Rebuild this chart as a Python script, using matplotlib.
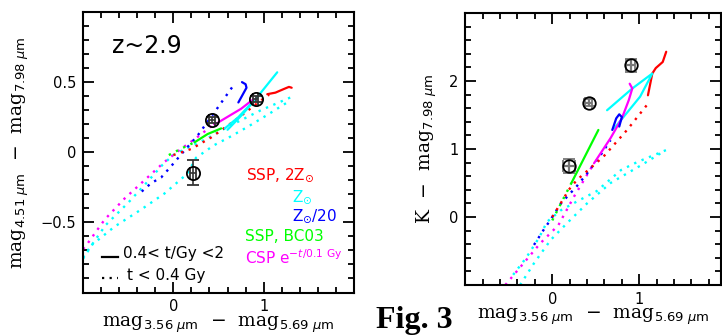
import matplotlib
matplotlib.use("Agg")
import matplotlib.pyplot as plt
from matplotlib.ticker import FixedLocator, MultipleLocator, FixedFormatter

# ---------------- data: left panel (mag3.56-mag5.69 vs mag4.51-mag7.98) ----------------
L_pts_x = [0.43, 0.91, 0.22]
L_pts_y = [0.23, 0.38, -0.146]
L_pts_xerr = [0.03, 0.03, 0.03]
L_pts_yerr = [0.02, 0.02, 0.09]

L_red_dot_x = [0.0, 0.2, 0.42, 0.71, 0.97, 1.06]
L_red_dot_y = [-0.02, 0.024, 0.106, 0.24, 0.37, 0.41]
L_red_sol_x = [1.04, 1.13, 1.22, 1.28, 1.31]
L_red_sol_y = [0.414, 0.425, 0.45, 0.466, 0.46]

L_cyan_dot1_x = [-1.0, -0.75, -0.5, -0.3, -0.12, 0.0, 0.15, 0.35, 0.6, 0.97, 1.33]
L_cyan_dot1_y = [-0.75, -0.52, -0.36, -0.22, -0.09, -0.02, 0.03, 0.09, 0.18, 0.30, 0.40]
L_cyan_dot2_x = [-1.0, -0.9, -0.65, -0.36, -0.1, 0.16, 0.25, 0.45, 0.6, 0.82, 1.05, 1.26]
L_cyan_dot2_y = [-0.76, -0.66, -0.53, -0.41, -0.295, -0.15, -0.04, 0.05, 0.10, 0.18, 0.27, 0.355]
L_cyan_sol1_x = [0.60, 0.75, 0.90, 1.15]
L_cyan_sol1_y = [0.16, 0.26, 0.37, 0.57]
L_cyan_sol2_x = [0.57, 0.72, 0.88]
L_cyan_sol2_y = [0.17, 0.25, 0.36]

L_blue_dot_x = [-0.35, -0.245, -0.135, -0.025, 0.12, 0.27, 0.45, 0.68]
L_blue_dot_y = [-0.28, -0.22, -0.18, -0.10, 0.01, 0.12, 0.28, 0.49]
L_blue_sol_x = [0.72, 0.78, 0.81, 0.80, 0.76]
L_blue_sol_y = [0.355, 0.425, 0.46, 0.485, 0.50]

L_green_dot_x = [-0.05, 0.1, 0.235]
L_green_dot_y = [-0.02, 0.03, 0.071]
L_green_sol_x = [0.235, 0.38, 0.53]
L_green_sol_y = [0.071, 0.13, 0.17]

L_mag_dot_x = [-1.0, -0.96, -0.76, -0.54, -0.32, -0.10, 0.085, 0.25, 0.45]
L_mag_dot_y = [-0.69, -0.66, -0.48, -0.33, -0.20, -0.07, 0.024, 0.10, 0.20]
L_mag_sol_x = [0.45, 0.49, 0.75, 0.89]
L_mag_sol_y = [0.20, 0.21, 0.31, 0.38]

# ---------------- data: right panel (mag3.56-mag5.69 vs K-mag7.98) ----------------
R_pts_x = [0.19, 0.42, 0.90]
R_pts_y = [0.75, 1.68, 2.23]
R_pts_xerr = [0.07, 0.04, 0.05]
R_pts_yerr = [0.10, 0.05, 0.10]

R_red_dot_x = [0.0, 0.12, 0.19, 0.28, 0.59, 0.86, 1.09]
R_red_dot_y = [0.0, 0.25, 0.40, 0.54, 0.89, 1.28, 1.65]
R_red_sol_x = [1.10, 1.15, 1.19, 1.27, 1.31]
R_red_sol_y = [1.79, 2.11, 2.19, 2.28, 2.43]

R_cyan_dot1_x = [-0.45, -0.3, -0.15, -0.06, 0.1, 0.3, 0.51, 0.79, 0.98, 1.17, 1.32]
R_cyan_dot1_y = [-0.85, -0.6, -0.3, -0.07, 0.1, 0.24, 0.38, 0.69, 0.81, 0.91, 0.99]
R_cyan_dot2_x = [-0.37, -0.21, -0.02, 0.17, 0.40, 0.67, 1.02, 1.25]
R_cyan_dot2_y = [-1.0, -0.68, -0.34, -0.09, 0.20, 0.50, 0.76, 0.94]
R_cyan_sol_x = [0.63, 0.92, 1.15, 1.01, 0.71]
R_cyan_sol_y = [1.57, 1.89, 2.11, 1.77, 1.30]

R_blue_dot_x = [-0.21, -0.1, -0.02, 0.1, 0.28, 0.40, 0.55, 0.67]
R_blue_dot_y = [-0.41, -0.19, -0.04, 0.2, 0.45, 0.64, 0.9, 1.13]
R_blue_sol_x = [0.69, 0.735, 0.77, 0.80, 0.77]
R_blue_sol_y = [1.28, 1.45, 1.51, 1.47, 1.33]

R_green_dot_x = [0.0, 0.1, 0.22]
R_green_dot_y = [-0.05, 0.2, 0.5]
R_green_sol_x = [0.22, 0.53]
R_green_sol_y = [0.50, 1.28]

R_mag_dot_x = [-0.54, -0.35, -0.14, 0.07, 0.25, 0.48]
R_mag_dot_y = [-1.0, -0.71, -0.39, -0.12, 0.3, 0.79]
R_mag_sol_x = [0.48, 0.67, 0.80, 0.88, 0.92, 0.89]
R_mag_sol_y = [0.79, 1.16, 1.45, 1.72, 1.89, 1.96]

# ---------------- text ----------------
legend_labels = ["SSP, 2Z$_{\\odot}$", "Z$_{\\odot}$", "Z$_{\\odot}$/20", "SSP, BC03",
                 "CSP e$^{-t/0.1\\ \\mathrm{Gy}}$"]
legend_colors = ["#ff0000", "#00ffff", "#0000ff", "#00ff00", "#ff00ff"]
age_labels = ["0.4< t/Gy <2", "t < 0.4 Gy"]

RED, CYAN, BLUE, GREEN, MAG = legend_colors
DOT = (0, (1, 2.4))

W, H = 722, 336
fig = plt.figure(figsize=(W / 100, H / 100), dpi=100)

def frac(l, r, t, b):
    return [l / W, (H - b) / H, (r - l) / W, (b - t) / H]

axL = fig.add_axes(frac(83, 354, 12, 292.5))
axR = fig.add_axes(frac(465.3, 721, 13, 285))

def style(ax, xmaj, ymaj, yminor, ylabels):
    for s in ax.spines.values():
        s.set_linewidth(1.5)
    ax.xaxis.set_major_locator(FixedLocator(xmaj))
    ax.xaxis.set_major_formatter(FixedFormatter([str(v) for v in xmaj]))
    ax.xaxis.set_minor_locator(MultipleLocator(0.2))
    ax.yaxis.set_major_locator(FixedLocator(ymaj))
    ax.yaxis.set_major_formatter(FixedFormatter(ylabels))
    ax.yaxis.set_minor_locator(MultipleLocator(yminor))
    ax.tick_params(which="both", direction="in", top=True, right=True,
                   labelsize=10.5, width=1.3)
    ax.tick_params(which="major", length=8, pad=5)
    ax.tick_params(which="minor", length=4.5)

def draw(ax, x, y, c, dotted):
    if dotted:
        ax.plot(x, y, color=c, lw=1.7, linestyle=DOT)
    else:
        ax.plot(x, y, color=c, lw=1.6, solid_capstyle="round")

XLAB = "mag$_{3.56\\ \\mu\\mathrm{m}}$  \u2212  mag$_{5.69\\ \\mu\\mathrm{m}}$"

# ---- left panel ----
axL.set_xlim(-1, 2)
axL.set_ylim(-1, 1)
style(axL, [0, 1], [-0.5, 0, 0.5], 0.1, ["\u22120.5", "0", "0.5"])

draw(axL, L_mag_dot_x, L_mag_dot_y, MAG, True)
draw(axL, L_cyan_dot1_x, L_cyan_dot1_y, CYAN, True)
draw(axL, L_cyan_dot2_x, L_cyan_dot2_y, CYAN, True)
draw(axL, L_blue_dot_x, L_blue_dot_y, BLUE, True)
draw(axL, L_green_dot_x, L_green_dot_y, GREEN, True)
draw(axL, L_red_dot_x, L_red_dot_y, RED, True)
draw(axL, L_red_sol_x, L_red_sol_y, RED, False)
draw(axL, L_cyan_sol2_x, L_cyan_sol2_y, CYAN, False)
draw(axL, L_cyan_sol1_x, L_cyan_sol1_y, CYAN, False)
draw(axL, L_blue_sol_x, L_blue_sol_y, BLUE, False)
draw(axL, L_green_sol_x, L_green_sol_y, GREEN, False)
draw(axL, L_mag_sol_x, L_mag_sol_y, MAG, False)

axL.errorbar(L_pts_x, L_pts_y, xerr=L_pts_xerr, yerr=L_pts_yerr, fmt="o",
             mfc="none", mec="black", mew=1.3, ms=9.5, ecolor="#333333",
             elinewidth=1.2, capsize=4.5, capthick=1.2, zorder=5)

axL.text(0.107, 0.879, "z~2.9", transform=axL.transAxes, fontsize=17,
         ha="left", va="center")

leg_pos = [(0.601, 0.419), (0.771, 0.342), (0.771, 0.271), (0.598, 0.200), (0.598, 0.125)]
for (fx, fy), lab, col in zip(leg_pos, legend_labels, legend_colors):
    axL.text(fx, fy, lab, transform=axL.transAxes, color=col, fontsize=11,
             ha="left", va="center")

axL.plot([0.070, 0.129], [0.125, 0.125], transform=axL.transAxes, color="black", lw=1.6)
axL.text(0.148, 0.139, age_labels[0], transform=axL.transAxes, fontsize=11,
         ha="left", va="center")
axL.plot([0.070, 0.129], [0.052, 0.052], transform=axL.transAxes, color="black",
         lw=1.6, linestyle=DOT)
axL.text(0.162, 0.062, age_labels[1], transform=axL.transAxes, fontsize=11,
         ha="left", va="center")

axL.set_xlabel(XLAB, family="DejaVu Serif", fontsize=13.5, labelpad=0)
axL.set_ylabel("mag$_{4.51\\ \\mu\\mathrm{m}}$  \u2212  mag$_{7.98\\ \\mu\\mathrm{m}}$",
               family="DejaVu Serif", fontsize=13.5, labelpad=7)

# ---- right panel ----
axR.set_xlim(-1, 1.94)
axR.set_ylim(-1, 3)
style(axR, [0, 1], [0, 1, 2], 0.2, ["0", "1", "2"])

draw(axR, R_mag_dot_x, R_mag_dot_y, MAG, True)
draw(axR, R_cyan_dot1_x, R_cyan_dot1_y, CYAN, True)
draw(axR, R_cyan_dot2_x, R_cyan_dot2_y, CYAN, True)
draw(axR, R_blue_dot_x, R_blue_dot_y, BLUE, True)
draw(axR, R_green_dot_x, R_green_dot_y, GREEN, True)
draw(axR, R_red_dot_x, R_red_dot_y, RED, True)
draw(axR, R_red_sol_x, R_red_sol_y, RED, False)
draw(axR, R_cyan_sol_x, R_cyan_sol_y, CYAN, False)
draw(axR, R_green_sol_x, R_green_sol_y, GREEN, False)
draw(axR, R_mag_sol_x, R_mag_sol_y, MAG, False)
draw(axR, R_blue_sol_x, R_blue_sol_y, BLUE, False)

axR.errorbar(R_pts_x, R_pts_y, xerr=R_pts_xerr, yerr=R_pts_yerr, fmt="o",
             mfc="none", mec="black", mew=1.3, ms=9, ecolor="#777777",
             elinewidth=1.6, capsize=4.5, capthick=1.6, zorder=5)

axR.set_xlabel(XLAB, family="DejaVu Serif", fontsize=13.5, labelpad=0)
axR.set_ylabel("K  \u2212  mag$_{7.98\\ \\mu\\mathrm{m}}$",
               family="DejaVu Serif", fontsize=13.5, labelpad=7)

fig.text(376 / W, 1 - 328 / H, "Fig. 3", family="Liberation Serif", fontweight="bold",
         fontsize=23, ha="left", va="baseline")

fig.savefig("out.png", dpi=100)
